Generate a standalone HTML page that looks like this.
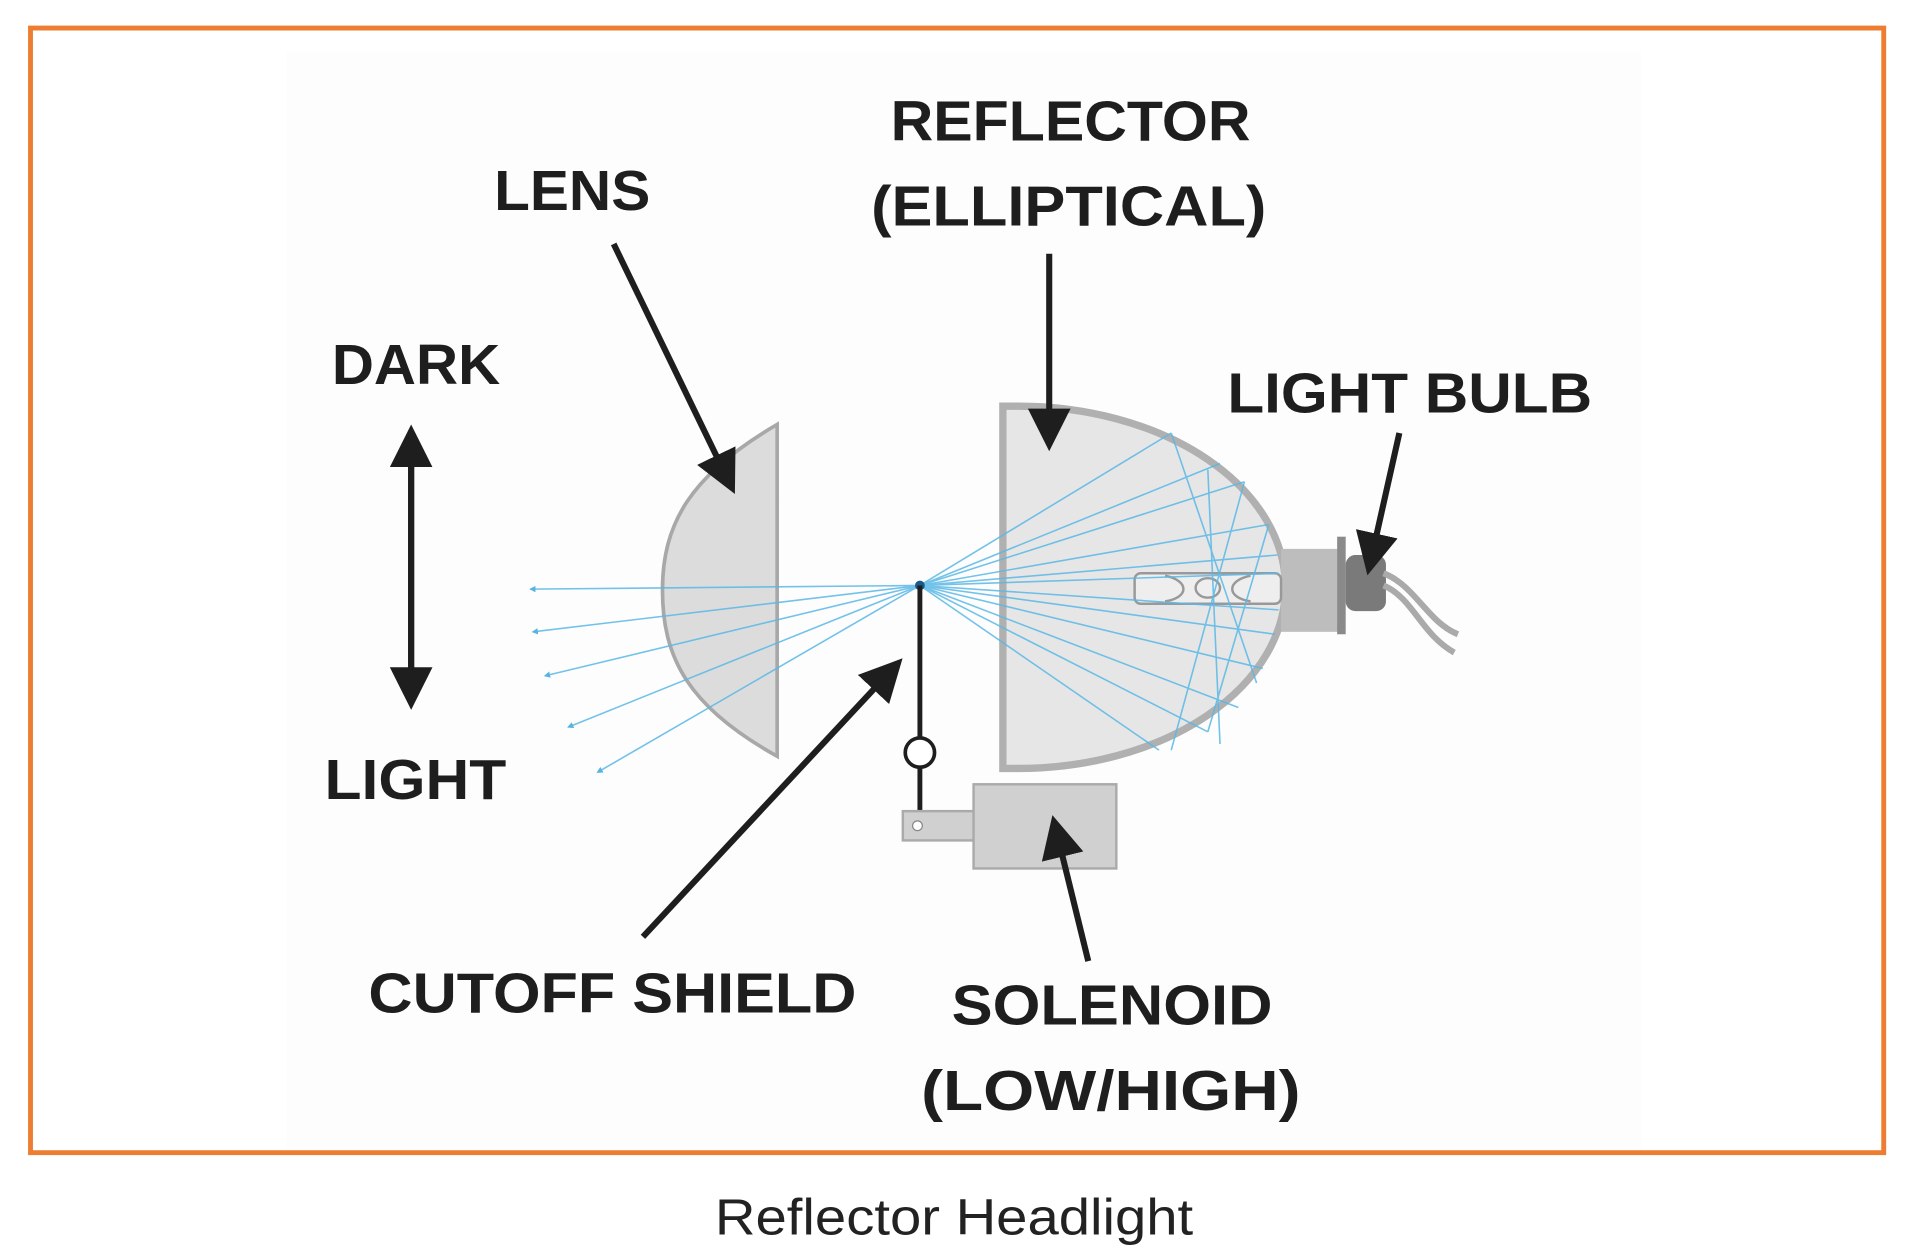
<!DOCTYPE html>
<html><head><meta charset="utf-8"><style>
html,body{margin:0;padding:0;background:#fff;}
svg{display:block;}
.t{font-family:"Liberation Sans",sans-serif;font-weight:bold;fill:#1e1e1e;}
</style></head><body>
<svg width="1913" height="1260" viewBox="0 0 1568 1033" preserveAspectRatio="none">
<defs>
<marker id="ah" markerWidth="7" markerHeight="7" refX="5" refY="3.5" orient="auto" markerUnits="strokeWidth"><path d="M0,0 L7,3.5 L0,7 z" fill="#1e1e1e"/></marker>
<marker id="bh" markerWidth="4" markerHeight="4" refX="3" refY="2" orient="auto" markerUnits="strokeWidth"><path d="M0,0 L4,2 L0,4 z" fill="#3aa8dc"/></marker>
</defs>
<rect x="0" y="0" width="1568" height="1033" fill="#fff"/>
<rect x="235" y="42" width="1110" height="900" fill="#fdfdfd"/>
<rect x="25" y="23" width="1519" height="922" fill="none" stroke="#ED7D31" stroke-width="4"/>
<text x="586" y="1012" textLength="392" lengthAdjust="spacingAndGlyphs" font-family="'Liberation Sans',sans-serif" font-size="42" fill="#222">Reflector Headlight</text>

<g class="t" font-size="46">
<text x="405" y="172" textLength="128" lengthAdjust="spacingAndGlyphs">LENS</text>
<text x="730" y="115" textLength="295" lengthAdjust="spacingAndGlyphs">REFLECTOR</text>
<text x="714" y="185" textLength="324" lengthAdjust="spacingAndGlyphs">(ELLIPTICAL)</text>
<text x="272" y="315" textLength="138" lengthAdjust="spacingAndGlyphs">DARK</text>
<text x="1006" y="338" textLength="299" lengthAdjust="spacingAndGlyphs">LIGHT BULB</text>
<text x="266" y="655" textLength="149" lengthAdjust="spacingAndGlyphs">LIGHT</text>
<text x="302" y="830" textLength="400" lengthAdjust="spacingAndGlyphs">CUTOFF SHIELD</text>
<text x="780" y="840" textLength="263" lengthAdjust="spacingAndGlyphs">SOLENOID</text>
<text x="755" y="910" textLength="311" lengthAdjust="spacingAndGlyphs">(LOW/HIGH)</text>
</g>

<path d="M637,348 C565,390 543,430 543,484 C543,540 565,580 637,620 Z" fill="#dcdcdc" stroke="#a8a8a8" stroke-width="3"/>
<path d="M822,333 L835,333 A218,148 0 0 1 835,630 L822,630 Z" fill="#e6e6e6" stroke="#b0b0b0" stroke-width="6"/>
<rect x="1050" y="450" width="47" height="68" fill="#bdbdbd"/>
<rect x="1096" y="440" width="7" height="80" fill="#8a8a8a"/>
<rect x="1103" y="455" width="33" height="46" rx="8" fill="#7a7a7a"/>
<path d="M1134,470 C1160,480 1170,510 1195,520 M1134,480 C1158,490 1165,520 1192,535" stroke="#aaa" stroke-width="5" fill="none"/>
<rect x="930" y="470" width="120" height="25" rx="5" fill="#eee" stroke="#999" stroke-width="2"/>
<ellipse cx="990" cy="482" rx="10" ry="8" fill="none" stroke="#999" stroke-width="2"/>
<path d="M955,472 C975,476 975,490 955,493 M1025,472 C1005,476 1005,490 1025,493" stroke="#999" stroke-width="2" fill="none"/>

<g stroke="#5ab8e6" stroke-width="1.3" opacity="0.85" fill="none">
<line x1="754" y1="480" x2="435" y2="483" marker-end="url(#bh)"/>
<line x1="754" y1="480" x2="437" y2="518" marker-end="url(#bh)"/>
<line x1="754" y1="480" x2="447" y2="554" marker-end="url(#bh)"/>
<line x1="754" y1="480" x2="466" y2="596" marker-end="url(#bh)"/>
<line x1="754" y1="480" x2="490" y2="633" marker-end="url(#bh)"/>
<line x1="754" y1="480" x2="1020" y2="395"/>
<line x1="754" y1="480" x2="1040" y2="430"/>
<line x1="754" y1="480" x2="1047" y2="455"/>
<line x1="754" y1="480" x2="1048" y2="470"/>
<line x1="754" y1="480" x2="960" y2="355"/>
<line x1="754" y1="480" x2="1000" y2="380"/>
<line x1="754" y1="480" x2="1048" y2="500"/>
<line x1="754" y1="480" x2="1045" y2="520"/>
<line x1="754" y1="480" x2="1035" y2="548"/>
<line x1="754" y1="480" x2="1015" y2="580"/>
<line x1="754" y1="480" x2="990" y2="600"/>
<line x1="754" y1="480" x2="950" y2="615"/>
<line x1="990" y1="385" x2="1000" y2="610"/>
<line x1="960" y1="355" x2="1030" y2="560"/>
<line x1="1020" y1="395" x2="960" y2="615"/>
<line x1="1040" y1="430" x2="990" y2="600"/>
</g>
<circle cx="754" cy="480" r="4" fill="#1a5a8a"/>

<g stroke="#1e1e1e" stroke-width="4" fill="none">
<line x1="754" y1="480" x2="754" y2="605"/>
<circle cx="754" cy="617" r="12" fill="#fff" stroke-width="3"/>
<line x1="754" y1="629" x2="754" y2="675"/>
</g>
<rect x="740" y="665" width="62" height="24" fill="#d0d0d0" stroke="#aaa" stroke-width="2"/>
<rect x="798" y="643" width="117" height="69" fill="#d0d0d0" stroke="#aaa" stroke-width="2"/>
<circle cx="752" cy="677" r="4" fill="#fff" stroke="#888"/>

<g stroke="#1e1e1e" stroke-width="5" fill="none">
<line x1="503" y1="200" x2="598" y2="396" marker-end="url(#ah)"/>
<line x1="860" y1="208" x2="860" y2="360" marker-end="url(#ah)"/>
<line x1="1147" y1="355" x2="1123" y2="462" marker-end="url(#ah)"/>
<line x1="527" y1="768" x2="733" y2="547" marker-end="url(#ah)"/>
<line x1="892" y1="788" x2="865" y2="678" marker-end="url(#ah)"/>
<line x1="337" y1="368" x2="337" y2="572" marker-end="url(#ah)"/>
<line x1="337" y1="572" x2="337" y2="358" marker-end="url(#ah)"/>
</g>
</svg>
</body></html>
